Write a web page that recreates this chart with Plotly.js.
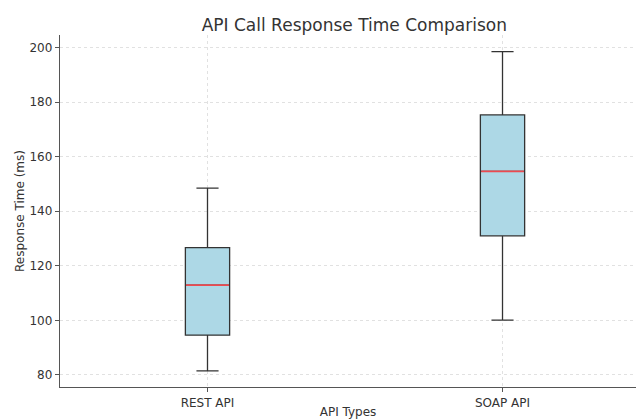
<!DOCTYPE html>
<html>
<head>
<meta charset="utf-8">
<script src="https://cdn.plot.ly/plotly-3.0.1.min.js"></script>
<style>html,body{margin:0;padding:0;background:#fff;}#chart{width:636px;height:419px;}</style>
</head>
<body>
<div id="chart"></div>
<script>
// Data
const categories = ["REST API", "SOAP API"];
const lowerWhisker = [81.5, 100.1];
const q1Values = [94.6, 131.0];
const medianValues = [112.9, 154.6];
const q3Values = [126.7, 175.3];
const upperWhisker = [148.5, 198.5];

const boxes = {
  type: "box",
  x: categories,
  q1: q1Values,
  median: medianValues,
  q3: q3Values,
  lowerfence: lowerWhisker,
  upperfence: upperWhisker,
  fillcolor: "#add8e6",
  line: {color: "#333333", width: 1.3},
  whiskerwidth: 0.5,
  width: 0.15,
  boxpoints: false,
  showlegend: false,
  hoverinfo: "skip"
};

// Red median lines, drawn as degenerate boxes at the median values
const medians = {
  type: "box",
  x: categories,
  q1: medianValues,
  median: medianValues,
  q3: medianValues,
  lowerfence: medianValues,
  upperfence: medianValues,
  fillcolor: "rgba(0,0,0,0)",
  line: {color: "#ec4a50", width: 1.8},
  whiskerwidth: 0,
  width: 0.145,
  boxpoints: false,
  showlegend: false,
  hoverinfo: "skip"
};

const font = "DejaVu Sans, sans-serif";

const layout = {
  width: 636,
  height: 419,
  margin: {l: 60, r: 0, t: 35, b: 32},
  paper_bgcolor: "#ffffff",
  plot_bgcolor: "#ffffff",
  boxmode: "overlay",
  font: {family: font, color: "#333333", size: 12},
  title: {
    text: "API Call Response Time Comparison",
    font: {family: font, size: 17, color: "#333333"},
    xref: "paper", x: 0.511, xanchor: "center",
    yref: "container", y: 0.94, yanchor: "middle"
  },
  annotations: [{
    text: "Response Time (ms)",
    xref: "paper", x: -0.0695, xanchor: "center",
    yref: "paper", y: 0.5, yanchor: "middle",
    textangle: -90, showarrow: false,
    font: {family: font, size: 12, color: "#333333"}
  }],
  xaxis: {
    type: "category",
    range: [-0.5, 1.4525],
    showline: true, linecolor: "#555555", linewidth: 1.2,
    ticks: "outside", ticklen: 4, tickcolor: "#555555", tickwidth: 1,
    showgrid: true, gridcolor: "#dadada", gridwidth: 0.8, griddash: "dot",
    zeroline: false,
    tickfont: {family: font, size: 12, color: "#333333"},
    title: {text: "API Types", font: {family: font, size: 12, color: "#333333"}, standoff: 2},
    automargin: false
  },
  yaxis: {
    range: [75.6, 204.6],
    tickvals: [80, 100, 120, 140, 160, 180, 200],
    showline: true, linecolor: "#555555", linewidth: 1.2,
    ticks: "outside", ticklen: 4, tickcolor: "#555555", tickwidth: 1,
    showgrid: true, gridcolor: "#dadada", gridwidth: 0.8, griddash: "dot",
    zeroline: false,
    tickfont: {family: font, size: 12, color: "#333333"},
    automargin: false
  }
};

Plotly.newPlot("chart", [boxes, medians], layout, {displayModeBar: false, staticPlot: true});
</script>
</body>
</html>
